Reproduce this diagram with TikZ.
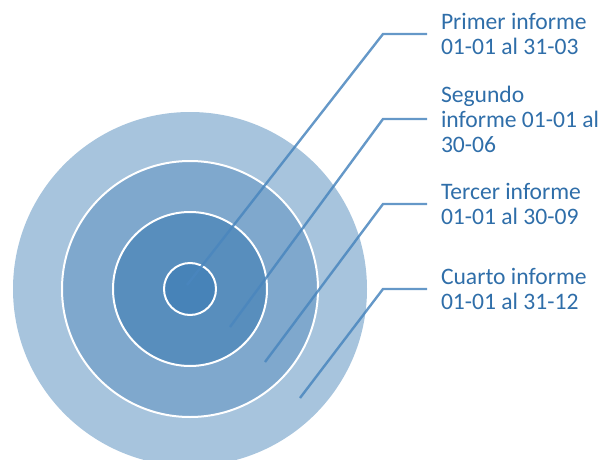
\documentclass[tikz,border=0pt]{standalone}
\usepackage{fontspec}
\setmainfont{Carlito}

\definecolor{ringout}{HTML}{A7C4DD}
\definecolor{ringmid}{HTML}{7FA8CD}
\definecolor{ringin}{HTML}{588EBD}
\definecolor{core}{HTML}{4783B8}
\definecolor{leadblue}{HTML}{4A86BE}
\definecolor{txtblue}{HTML}{2F6EA9}

\begin{document}
\begin{tikzpicture}[x=1pt, y=-1pt,
		ring/.style={draw=white, line width=2pt},
		leader/.style={draw=leadblue, line width=2.4pt, opacity=.85},
		infotext/.style={anchor=west, align=left, text=txtblue, inner sep=0pt, outer xsep=14pt, font=\fontsize{23.6}{25}\selectfont}]
		\useasboundingbox (0,0) rectangle (602,460);
		\clip (0,0) rectangle (602,460);
		\pgfmathsetmacro{\cx}{190}
		\pgfmathsetmacro{\cy}{289}

		\fill [ringout] (\cx,\cy) circle [radius=177];
		\draw [ring, fill=ringmid] (\cx,\cy) circle [radius=128];
		\draw [ring, fill=ringin] (\cx,\cy) circle [radius=77];
		\draw [ring, fill=core] (\cx,\cy) circle [radius=26];

		\node [infotext] (primer) at (427,34) {Primer informe\\01-01 al 31-03};
		\node [infotext] (segundo) at (427,119) {Segundo\\informe 01-01 al\\30-06};
		\node [infotext] (tercer) at (427,204) {Tercer informe\\01-01 al 30-09};
		\node [infotext] (cuarto) at (427,289) {Cuarto informe\\01-01 al 31-12};

		\coordinate (elbow) at (383,0);
		\coordinate (a) at (187,285);
		\coordinate (b) at (230,327);
		\coordinate (c) at (265,362);
		\coordinate (d) at (300,398);

		\draw [leader] (a) -- (elbow |- primer.west) -- (primer.west);
		\draw [leader] (b) -- (elbow |- segundo.west) -- (segundo.west);
		\draw [leader] (c) -- (elbow |- tercer.west) -- (tercer.west);
		\draw [leader] (d) -- (elbow |- cuarto.west) -- (cuarto.west);
	\end{tikzpicture}
\end{document}
